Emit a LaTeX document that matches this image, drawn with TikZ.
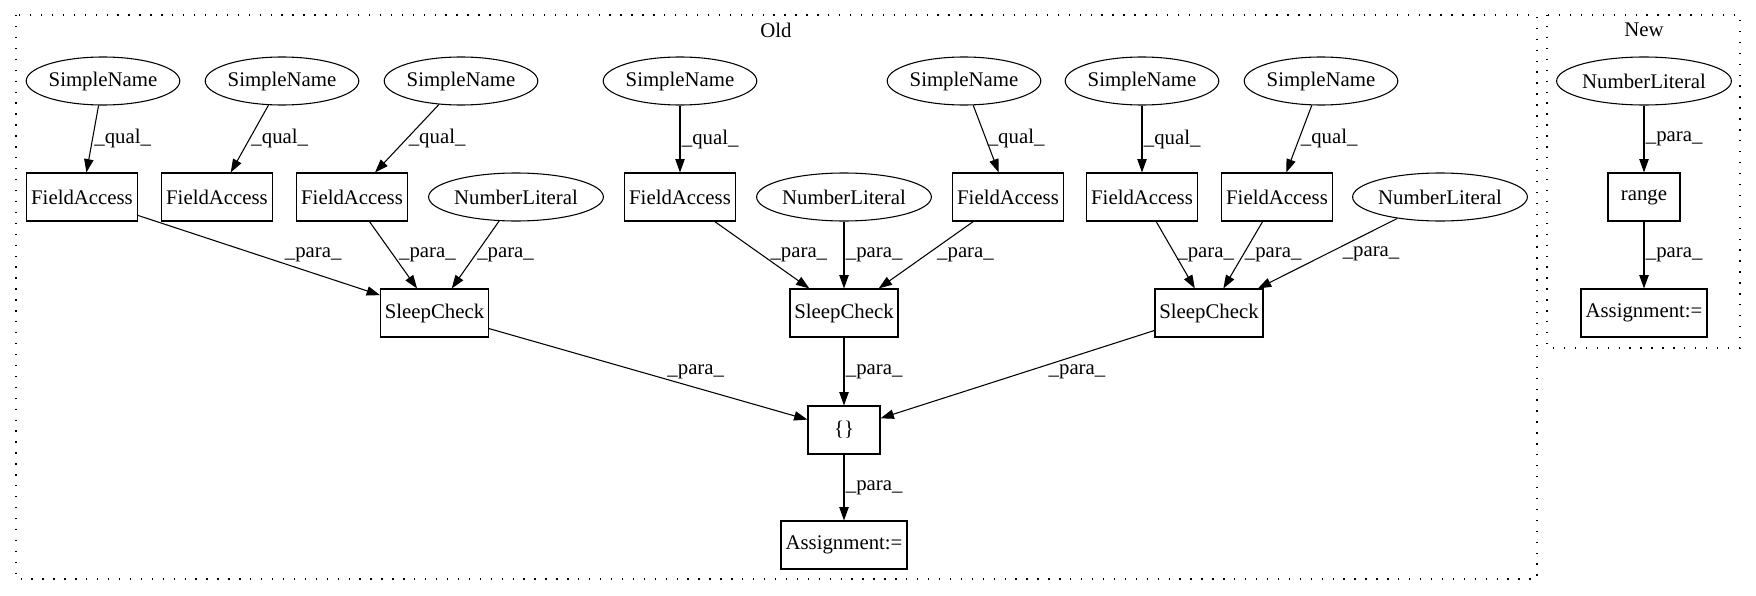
\documentclass[tikz,border=0pt]{standalone}
\usepackage{fontspec}
\setmainfont{Liberation Serif}
\usetikzlibrary{shapes,arrows.meta}

\begin{document}
\begin{tikzpicture}[x=0.75pt,y=-0.75pt,
	every node/.style={font=\fontsize{15.6}{18}\selectfont},
	box/.style={draw, rectangle, line width=0.8pt, inner sep=0pt, minimum height=36pt},
	oval/.style={draw, ellipse, line width=0.8pt, inner sep=0pt, minimum height=36pt},
	lbl/.style={right, inner sep=1pt},
	arr/.style={line width=0.8pt, -{Triangle[length=10pt,width=7pt]}},
	cluster/.style={line width=1pt, dash pattern=on 1pt off 7.2pt}]
	\useasboundingbox (0,0) rectangle (1756,596);
	% clusters
	\draw[cluster] (16,15) rectangle (1537,579);
	\draw[cluster] (1547,15) rectangle (1740,348);
	\draw (776,30) node (old) {Old};
	\draw (1644,30) node (new) {New};
	% old
	\draw (103,81) node[oval,minimum width=114.75pt] (sn1) {SimpleName};
	\draw (282,81) node[oval,minimum width=114.75pt] (sn2) {SimpleName};
	\draw (461,81) node[oval,minimum width=114.75pt] (sn3) {SimpleName};
	\draw (680,81) node[oval,minimum width=114.75pt] (sn4) {SimpleName};
	\draw (964,81) node[oval,minimum width=114.75pt] (sn5) {SimpleName};
	\draw (1142,81) node[oval,minimum width=114.75pt] (sn6) {SimpleName};
	\draw (1321,81) node[oval,minimum width=114.75pt] (sn7) {SimpleName};
	\draw (82,197) node[box,minimum width=83.25pt] (fa1) {FieldAccess};
	\draw (217,197) node[box,minimum width=83.25pt] (fa2) {FieldAccess};
	\draw (352,197) node[box,minimum width=83.25pt] (fa3) {FieldAccess};
	\draw (680,197) node[box,minimum width=83.25pt] (fa4) {FieldAccess};
	\draw (1008,197) node[box,minimum width=83.25pt] (fa5) {FieldAccess};
	\draw (1142,197) node[box,minimum width=83.25pt] (fa6) {FieldAccess};
	\draw (1277,197) node[box,minimum width=83.25pt] (fa7) {FieldAccess};
	\draw (516,197) node[oval,minimum width=126.75pt] (nl1) {NumberLiteral};
	\draw (844,197) node[oval,minimum width=126.75pt] (nl2) {NumberLiteral};
	\draw (1440,197) node[oval,minimum width=126.75pt] (nl3) {NumberLiteral};
	\draw (434.5,313) node[box,minimum width=81pt] (sc1) {SleepCheck};
	\draw (844,313) node[box,minimum width=81pt] (sc2) {SleepCheck};
	\draw (1209,313) node[box,minimum width=81pt] (sc3) {SleepCheck};
	\draw (844,430) node[box,minimum width=54pt] (br) {\{\}};
	\draw (844,545) node[box,minimum width=94.5pt] (as1) {Assignment:=};
	% new
	\draw (1644,81) node[oval,minimum width=126.75pt] (nl4) {NumberLiteral};
	\draw (1644,197) node[box,minimum width=54pt] (rg) {range};
	\draw (1644,313) node[box,minimum width=94.5pt] (as2) {Assignment:=};

	\draw[arr] (sn1) -- node[lbl] {\_qual\_} (fa1);
	\draw[arr] (sn2) -- node[lbl] {\_qual\_} (fa2);
	\draw[arr] (sn3) -- node[lbl] {\_qual\_} (fa3);
	\draw[arr] (sn4) -- node[lbl] {\_qual\_} (fa4);
	\draw[arr] (sn5) -- node[lbl] {\_qual\_} (fa5);
	\draw[arr] (sn6) -- node[lbl] {\_qual\_} (fa6);
	\draw[arr] (sn7) -- node[lbl] {\_qual\_} (fa7);
	\draw[arr] (fa1) -- node[lbl,xshift=18pt] {\_para\_} (sc1);
	\draw[arr] (fa3) -- node[lbl,xshift=3pt] {\_para\_} (sc1);
	\draw[arr] (nl1) -- node[lbl] {\_para\_} (sc1);
	\draw[arr] (fa4) -- node[lbl,xshift=5pt] {\_para\_} (sc2);
	\draw[arr] (nl2) -- node[lbl] {\_para\_} (sc2);
	\draw[arr] (fa5) -- node[lbl,xshift=7pt] {\_para\_} (sc2);
	\draw[arr] (fa6) -- node[lbl] {\_para\_} (sc3);
	\draw[arr] (fa7) -- node[lbl] {\_para\_} (sc3);
	\draw[arr] (nl3) -- node[lbl,xshift=10pt] {\_para\_} (sc3);
	\draw[arr] (sc1) -- node[lbl,xshift=13pt,yshift=2pt] {\_para\_} (br);
	\draw[arr] (sc2) -- node[lbl] {\_para\_} (br);
	\draw[arr] (sc3) -- node[lbl,xshift=22pt,yshift=2pt] {\_para\_} (br);
	\draw[arr] (br) -- node[lbl] {\_para\_} (as1);
	\draw[arr] (nl4) -- node[lbl] {\_para\_} (rg);
	\draw[arr] (rg) -- node[lbl] {\_para\_} (as2);
\end{tikzpicture}
\end{document}
